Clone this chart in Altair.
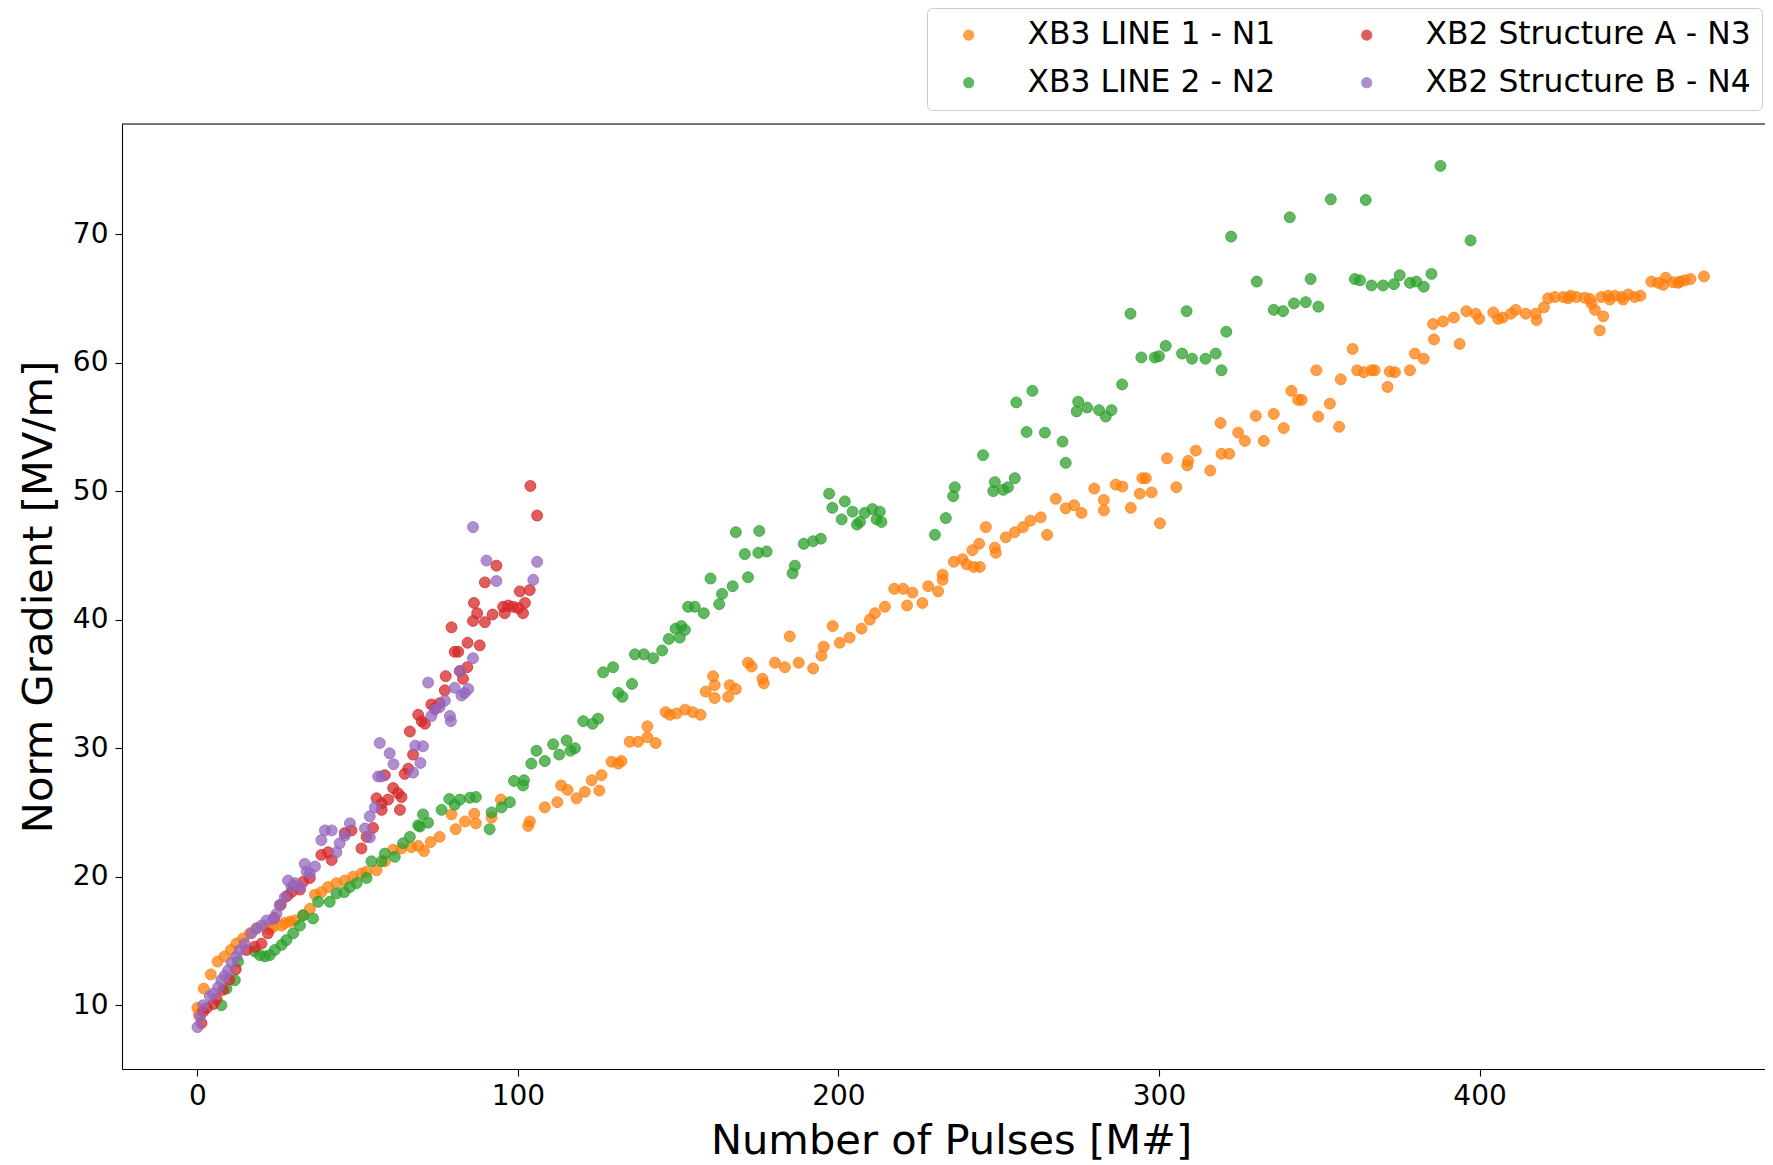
import altair as alt
import pandas as pd

# ---------------- data ----------------
n1_x = [0.0, 0.5, 2.0, 4.2, 6.3, 8.5, 10.5, 12.2, 14.3, 16.4, 18.5, 21.0, 22.6, 23.7, 26.3, 27.3, 28.9, 30.4,
        33.0, 35.1, 36.7, 38.7, 40.8, 43.4, 46.0, 48.6, 51.2, 52.8, 55.9, 58.5, 61.1, 63.7, 66.8, 68.9, 70.7,
        72.8, 75.6, 79.3, 80.6, 83.5, 86.4, 86.9, 91.8, 94.7, 103.2, 103.7, 108.4, 112.3, 113.5, 115.5, 118.3,
        120.9, 123.0, 125.4, 126.1, 129.2, 131.3, 132.3, 134.9, 137.5, 140.4, 140.4, 143.0, 146.1, 147.4,
        149.5, 152.2, 154.6, 157.0, 158.6, 160.9, 161.4, 161.4, 165.6, 166.1, 168.0, 171.8, 172.9, 176.3,
        176.7, 180.2, 183.3, 184.8, 187.6, 192.1, 194.7, 195.4, 198.2, 200.4, 203.5, 207.2, 209.8, 211.4,
        214.5, 217.4, 220.2, 221.4, 223.1, 226.2, 228.0, 231.1, 232.5, 232.5, 236.0, 238.7, 240.0, 242.2,
        241.8, 243.9, 244.1, 246.0, 248.8, 249.1, 252.2, 255.0, 257.6, 259.9, 263.1, 265.1, 267.8, 270.9,
        273.5, 275.8, 279.8, 282.8, 282.8, 286.5, 288.6, 291.2, 294.0, 294.8, 295.9, 297.7, 300.3, 302.5,
        305.4, 308.8, 309.1, 311.5, 316.0, 319.2, 319.5, 321.9, 324.7, 326.8, 330.2, 332.7, 335.8, 338.9,
        341.3, 343.4, 344.5, 349.1, 349.7, 353.3, 356.2, 356.7, 360.4, 361.8, 363.9, 366.3, 367.3, 371.3,
        372.0, 373.6, 378.3, 379.8, 382.6, 385.5, 385.8, 388.6, 392.0, 393.8, 395.9, 398.8, 399.9, 404.3,
        405.8, 407.2, 409.8, 411.3, 414.4, 417.5, 417.8, 420.1, 421.4, 423.5, 426.1, 427.6, 428.4, 430.2,
        432.8, 434.4, 434.9, 436.0, 437.5, 438.0, 438.6, 440.1, 440.6, 442.2, 444.3, 444.8, 446.4, 448.4,
        450.2, 453.6, 455.7, 457.3, 458.1, 460.4, 462.0, 462.5, 464.0, 465.8, 470.0]
n1_y = [9.8, 9.3, 11.3, 12.4, 13.4, 13.8, 14.3, 14.8, 15.2, 15.6, 16.0, 16.2, 15.9, 16.1, 16.2, 16.4, 16.5, 16.6,
        17.0, 17.5, 18.6, 18.8, 19.2, 19.5, 19.7, 20.0, 20.25, 20.4, 20.5, 21.2, 22.1, 22.2, 22.3, 22.4, 22.0,
        22.7, 23.1, 24.85, 23.7, 24.3, 24.9, 24.15, 24.6, 26.0, 23.95, 24.3, 25.4, 25.8, 27.1, 26.75, 26.1,
        26.6, 27.5, 26.7, 27.9, 28.95, 28.8, 29.0, 30.5, 30.5, 30.85, 31.7, 30.4, 32.8, 32.6,
        32.7, 33.0, 32.8, 32.6, 34.4, 35.6, 34.9, 33.9, 34.0, 34.9, 34.6, 36.65, 36.35, 35.4,
        35.05, 36.65, 36.3, 38.7, 36.65, 36.2, 37.2, 37.9, 39.5, 38.2, 38.6, 39.3, 40.0, 40.5,
        41.0, 42.4, 42.4, 41.1, 42.1, 41.3, 42.6, 42.2, 43.1, 43.5, 44.5, 44.7, 44.3, 44.1,
        45.4, 45.9, 44.1, 47.2, 45.6, 45.2, 46.4, 46.8, 47.2, 47.7, 47.96, 46.6, 49.4, 48.66,
        48.9, 48.3, 50.2, 49.3, 48.5, 50.5, 50.35, 48.7, 49.8, 51.0, 51.0, 49.9, 47.5, 52.55,
        50.3, 52.0, 52.35, 53.15, 51.6, 55.3, 52.9, 52.9, 54.55, 53.9, 55.85, 53.9, 56.0, 54.9,
        57.8, 57.1, 57.1, 59.4, 55.8, 56.8, 55.0, 58.7, 61.06, 59.4, 59.25, 59.4, 59.4, 58.1,
        59.3, 59.25, 59.4, 60.7, 60.3, 63.0, 61.8, 63.2, 63.5, 61.45, 64.0, 63.8, 63.4, 63.9,
        63.4, 63.5, 63.8, 64.1, 63.8, 63.8, 63.3, 64.3, 65.0, 65.1, 65.1, 65.0, 65.2, 65.1,
        65.05, 64.95, 64.6, 64.1, 62.5, 65.1, 63.6, 65.2, 64.9, 65.2, 65.1, 64.9, 65.3, 65.1,
        65.2, 66.3, 66.2, 66.05, 66.6, 66.25, 66.2, 66.3, 66.4, 66.5, 66.7]

n2_x = [7.5, 9.1, 11.7, 12.7, 17.9, 19.5, 21.1, 22.6, 24.2, 26.3, 27.8, 29.9, 32.0, 33.0, 36.1, 37.7, 41.3,
        43.4, 45.8, 47.6, 49.7, 52.8, 54.3, 57.5, 58.5, 61.6, 64.2, 66.3, 68.9, 69.4, 70.4, 72.0, 76.2, 78.6,
        80.3, 81.9, 85.0, 86.9, 91.2, 91.8, 94.9, 97.5, 98.8, 101.6, 101.9, 104.2, 105.8, 108.4, 111.0,
        112.9, 115.2, 116.4, 117.8, 120.4, 123.3, 125.0, 126.6, 129.7, 131.3, 132.6, 135.6, 136.5, 139.3,
        142.2, 145.0, 147.1, 149.2, 150.5, 151.0, 152.1, 153.1, 155.2, 158.0, 160.1, 162.8, 163.7, 167.0,
        168.0, 170.8, 171.8, 175.0, 175.3, 177.6, 185.7, 186.4, 189.2, 192.1, 194.5, 197.1, 198.1, 201.0,
        202.0, 204.4, 205.8, 206.7, 208.2, 210.6, 211.9, 212.9, 213.4, 230.1, 233.5, 235.8, 236.3, 245.1,
        248.3, 248.8, 251.4, 252.9, 255.0, 255.5, 258.7, 260.5, 264.4, 269.9, 270.9, 274.3, 274.8, 277.6,
        281.3, 283.4, 285.2, 288.5, 291.1, 294.5, 298.7, 300.0, 302.1, 307.2, 308.6, 310.3, 314.5, 317.7,
        319.5, 321.0, 322.5, 330.5, 335.8, 338.7, 340.8, 342.1, 345.8, 347.3, 349.7, 353.6, 361.1, 362.7,
        364.5, 366.3, 369.9, 373.3, 375.1, 378.3, 380.3, 382.6, 385.0, 387.8, 397.2]
n2_y = [10.0, 11.3, 11.95, 13.4, 14.2, 13.9, 13.8, 13.9, 14.3, 14.7, 15.07, 15.6, 16.2, 17.0, 16.75, 18.05, 18.05,
        18.7, 18.8, 19.2, 19.5, 19.9, 21.2, 21.2, 21.8, 21.55, 22.6, 23.1, 24.0, 23.9, 24.85, 24.2, 25.2, 26.05,
        25.6, 26.0, 26.15, 26.2, 23.7, 25.0, 25.4, 25.8, 27.45, 27.1, 27.5, 28.8, 29.8, 29.0, 30.3,
        29.5, 30.6, 29.8, 30.0, 32.1, 31.9, 32.3, 35.9, 36.3, 34.3, 34.0, 35.0, 37.3, 37.3,
        37.0, 37.6, 38.5, 39.3, 38.6, 39.5, 39.2, 41.0, 41.0, 40.5, 43.2, 41.2, 42.0, 42.6,
        46.8, 45.1, 43.3, 45.2, 46.9, 45.3, 43.6, 44.2, 45.9, 46.1, 46.3, 49.8, 48.7, 47.8,
        49.2, 48.4, 47.4, 47.6, 48.3, 48.6, 47.8, 48.4, 47.6, 46.6, 47.9, 49.6, 50.3, 52.8,
        50.0, 50.7, 50.1, 50.3, 51.0, 56.9, 54.6, 57.8, 54.55, 53.85, 52.2, 56.2, 56.96, 56.5,
        56.3, 55.8, 56.3, 58.3, 63.8, 60.4, 60.4, 60.5, 61.3, 60.7, 64.0, 60.3, 60.3, 60.7,
        59.4, 62.4, 69.8, 66.3, 64.1, 64.0, 71.3, 64.6, 64.7, 66.5, 64.35, 72.7, 66.5, 66.4,
        72.65, 66.0, 66.0, 66.1, 66.8, 66.2, 66.3, 65.9, 66.9, 75.3, 69.5]

n3_x = [1.3, 1.8, 3.0, 5.0, 6.0, 8.0, 10.0, 12.0, 15.3, 17.9, 20.0, 22.0, 24.0, 26.0, 28.0, 29.4, 30.0, 32.0,
        33.0, 35.1, 38.7, 40.8, 41.9, 46.0, 48.1, 51.2, 52.8, 54.8, 55.9, 57.5, 57.5, 58.5, 59.5, 61.1, 62.6,
        63.2, 63.7, 64.7, 65.8, 66.3, 67.3, 68.9, 70.0, 71.0, 73.0, 74.1, 75.6, 77.2, 77.5, 79.3, 80.3, 81.4,
        81.9, 82.9, 84.2, 84.3, 86.0, 86.3, 87.3, 88.1, 89.7, 89.7, 92.1, 93.3, 95.4, 95.9, 97.0, 98.5, 100.1,
        100.6, 101.6, 102.2, 103.7, 103.9, 106.0]
n3_y = [8.6, 9.5, 9.8, 10.1, 10.5, 11.2, 12.0, 12.8, 14.3, 14.55, 14.8, 15.6, 16.8, 17.8, 18.5, 18.8, 19.3, 19.0,
        19.6, 19.9, 21.7, 21.9, 21.3, 23.4, 23.6, 22.2, 23.1, 23.8, 26.1, 25.7, 25.2, 27.9, 26.0, 26.9, 26.5,
        25.2, 26.2, 28.0, 28.4, 31.3, 29.5, 32.6, 32.1, 31.9, 33.4, 33.1, 33.5, 34.5, 35.6, 39.4, 37.5, 37.5,
        36.0, 35.4, 36.3, 38.2, 39.9, 41.3, 40.5, 38.0, 39.8, 42.9, 40.4, 44.2, 41.0, 40.5, 41.1, 41.0, 40.9,
        42.2, 40.5, 41.3, 42.3, 50.4, 48.1]

n4_x = [0.05, 0.8, 1.8, 3.9, 4.9, 6.5, 7.5, 8.6, 9.6, 10.7, 12.2, 13.3, 14.8, 16.9, 18.5, 20.0, 21.6, 23.7,
        24.7, 25.7, 27.3, 28.3, 29.4, 30.4, 32.0, 33.5, 34.1, 35.1, 36.7, 38.7, 39.8, 41.9, 43.4, 44.4, 46.0,
        47.6, 52.3, 53.8, 53.8, 55.4, 56.4, 56.9, 57.4, 60.0, 61.2, 67.3, 68.0, 69.6, 70.4, 72.0, 73.0, 74.1,
        75.6, 77.2, 78.8, 79.1, 80.3, 81.9, 82.4, 83.4, 84.5, 86.0, 86.0, 90.2, 93.3, 104.8, 106.0]
n4_y = [8.3, 9.1, 10.0, 10.7, 10.9, 11.4, 11.96, 12.3, 12.7, 13.3, 13.8, 14.3, 14.8, 15.6, 15.97, 16.2, 16.6, 16.7,
        17.1, 17.8, 18.4, 19.7, 19.2, 19.5, 19.2, 21.0, 20.4, 20.26, 20.8, 22.85, 23.6, 23.6, 21.9, 22.6, 23.2,
        24.15, 23.76, 23.06, 24.7, 25.4, 27.8, 30.4, 27.8, 29.6, 28.75, 28.1, 30.2, 28.85, 30.15, 35.1, 32.5, 33.0,
        33.2, 33.7, 32.5, 32.1, 34.7, 36.0, 34.1, 34.3, 34.6, 37.0, 47.2, 44.6, 43.0, 43.1, 44.5]

series_names = ["XB3 LINE 1 - N1", "XB3 LINE 2 - N2", "XB2 Structure A - N3", "XB2 Structure B - N4"]
series_colors = ["#ff7f0e", "#2ca02c", "#d62728", "#9467bd"]
x_ticks = [0, 100, 200, 300, 400]
y_ticks = [10, 20, 30, 40, 50, 60, 70]

rows = []
idx = 0
for name, xs, ys in zip(series_names, [n1_x, n2_x, n3_x, n4_x], [n1_y, n2_y, n3_y, n4_y]):
    for xv, yv in zip(xs, ys):
        rows.append({"pulses": xv, "gradient": yv, "series": name, "idx": idx})
        idx += 1
df = pd.DataFrame(rows)

W, H = 1643, 945
FONT = "DejaVu Sans"

color_scale = alt.Scale(domain=series_names, range=series_colors)

points = alt.Chart(df).mark_circle(size=120, fillOpacity=0.75, strokeOpacity=0.75, strokeWidth=1).encode(
    x=alt.X("pulses:Q",
            scale=alt.Scale(domain=[-23.5, 489.05], nice=False, zero=False),
            axis=alt.Axis(values=x_ticks, title="Number of Pulses [M#]", grid=False,
                          labelFont=FONT, labelFontSize=28, labelColor="black", labelPadding=6,
                          labelFlush=False, tickSize=7, tickWidth=1.1, tickColor="black",
                          domainColor="black", domainWidth=1.1,
                          titleFont=FONT, titleFontSize=41.6, titleFontWeight="normal", titleColor="black",
                          titleX=829, titleY=84, titleBaseline="alphabetic", titleAlign="center")),
    y=alt.Y("gradient:Q",
            scale=alt.Scale(domain=[5.04, 78.56], nice=False, zero=False),
            axis=alt.Axis(values=y_ticks, title="Norm Gradient [MV/m]", grid=False,
                          labelFont=FONT, labelFontSize=28, labelColor="black", labelPadding=7,
                          labelFlush=False, tickSize=7, tickWidth=1.1, tickColor="black",
                          domainColor="black", domainWidth=1.1,
                          titleFont=FONT, titleFontSize=41.6, titleFontWeight="normal", titleColor="black",
                          titleAngle=270, titleX=-71, titleY=H / 2, titleBaseline="alphabetic",
                          titleAlign="center")),
    color=alt.Color("series:N", scale=color_scale,
                    legend=alt.Legend(title=None, orient="none", legendX=805, legendY=-116, columns=2,
                                      labelFont=FONT, labelFontSize=31.4, labelColor="black", labelLimit=0,
                                      symbolType="circle", symbolSize=125, symbolOpacity=0.75,
                                      symbolStrokeWidth=0, symbolOffset=15, labelOffset=43,
                                      columnPadding=60, rowPadding=15, padding=11,
                                      fillColor="white", strokeColor="#cccccc", cornerRadius=5)),
    stroke=alt.Stroke("series:N", scale=color_scale, legend=None),
    order=alt.Order("idx:Q"),
)

top_line = alt.Chart(pd.DataFrame({"k": [0]})).mark_rule(color="black", strokeWidth=1.1).encode(
    x=alt.value(0), x2=alt.value(W), y=alt.value(0)
)

chart = alt.layer(points, top_line).properties(
    width=W, height=H,
    autosize=alt.AutoSizeParams(type="none"),
    padding={"left": 114, "top": 116, "right": 0, "bottom": 96},
).configure_view(stroke=None).configure(font=FONT)

chart.save("out.html", embed_options={"renderer": "svg", "actions": False})
